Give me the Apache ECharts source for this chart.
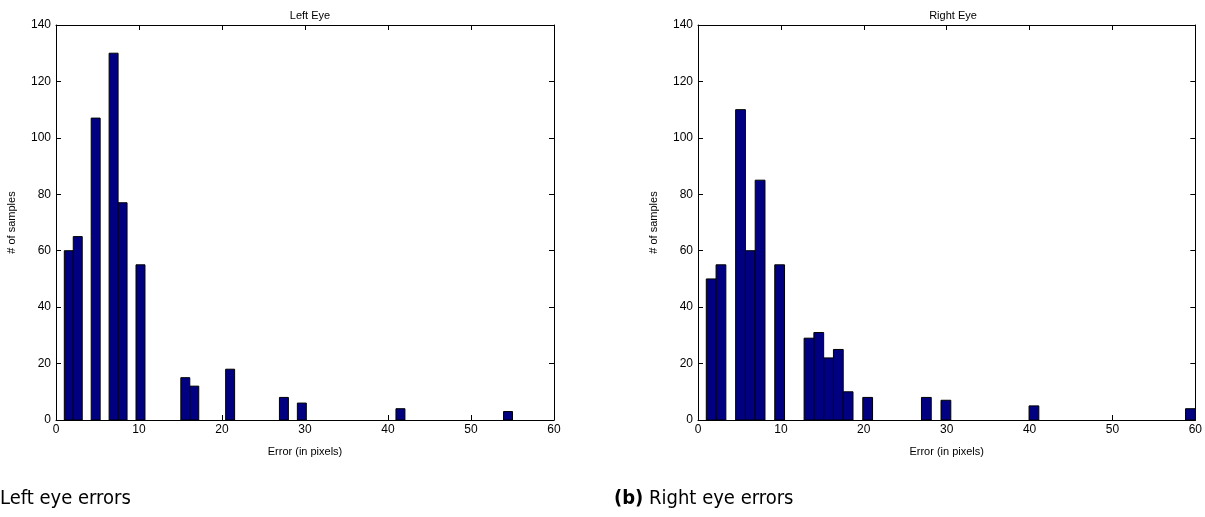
<!DOCTYPE html>
<html>
<head>
<meta charset="utf-8">
<script src="https://cdn.jsdelivr.net/npm/echarts@6/dist/echarts.min.js"></script>
<style>
  html, body { margin: 0; padding: 0; background: #fff; }
  #main { width: 1205px; height: 517px; }
</style>
</head>
<body>
<div id="main"></div>
<script>
// histogram bins (bin centre, count), 50 bins per eye
var leftBinWidth = 1.08
var leftCenters = [1.54, 2.62, 4.78, 6.94, 8.02, 10.18, 15.58, 16.66, 20.98, 27.46, 29.62, 41.50, 54.46]
var leftCounts  = [60, 65, 107, 130, 77, 55, 15, 12, 18, 8, 6, 4, 3]

var rightBinWidth = 1.18
var rightCenters = [1.59, 2.77, 5.13, 6.31, 7.49, 9.85, 13.39, 14.57, 15.75, 16.93, 18.11, 20.47, 27.55, 29.91, 40.53, 59.41]
var rightCounts  = [50, 55, 110, 60, 85, 55, 29, 31, 22, 25, 10, 8, 8, 7, 5, 4]

var titles = ['Left Eye', 'Right Eye']
var xName = 'Error (in pixels)'
var yName = '# of samples'

var font = 'Liberation Sans, Arial, sans-serif'
var capFont = '"DejaVu Sans Condensed", "Liberation Sans Narrow", sans-serif'

function pairs(xs, ys) {
  return xs.map(function (x, i) { return [x, ys[i]] })
}

function histItem(width) {
  return function (params, api) {
    var c = api.value(0)
    var n = api.value(1)
    var p0 = api.coord([c - width / 2, n])
    var p1 = api.coord([c + width / 2, 0])
    return {
      type: 'rect',
      shape: { x: p0[0], y: p0[1], width: p1[0] - p0[0], height: p1[1] - p0[1] },
      style: { fill: '#000080', stroke: '#000', lineWidth: 1 }
    }
  }
}

function xAxes(gi) {
  var base = {
    gridIndex: gi, type: 'value', min: 0, max: 60, interval: 10,
    axisLine: { show: true, onZero: false, lineStyle: { color: '#000', width: 1 } },
    splitLine: { show: false },
    axisTick: { show: true, inside: true, length: 5, lineStyle: { color: '#000' } }
  }
  return [
    Object.assign({}, base, {
      position: 'bottom',
      name: xName, nameLocation: 'middle', nameGap: 26,
      nameTextStyle: { color: '#000', fontSize: 11, fontFamily: font },
      axisLabel: { color: '#000', fontSize: 12, fontFamily: font, margin: 4 }
    }),
    Object.assign({}, base, { position: 'top', axisLabel: { show: false } })
  ]
}

function yAxes(gi) {
  var base = {
    gridIndex: gi, type: 'value', min: 0, max: 140, interval: 20,
    axisLine: { show: true, onZero: false, lineStyle: { color: '#000', width: 1 } },
    splitLine: { show: false },
    axisTick: { show: true, inside: true, length: 5, lineStyle: { color: '#000' } }
  }
  return [
    Object.assign({}, base, {
      position: 'left',
      name: yName, nameLocation: 'middle', nameGap: 39,
      nameTextStyle: { color: '#000', fontSize: 11, fontFamily: font },
      axisLabel: { color: '#000', fontSize: 12, fontFamily: font, margin: 5 }
    }),
    Object.assign({}, base, { position: 'right', axisLabel: { show: false } })
  ]
}

var chart = echarts.init(document.getElementById('main'), null, { renderer: 'canvas' })

chart.setOption({
  animation: false,
  backgroundColor: '#fff',
  title: [
    { text: titles[0], left: 305, top: 5, textAlign: 'center',
      textStyle: { fontSize: 11, fontWeight: 'normal', color: '#000', fontFamily: font } },
    { text: titles[1], left: 948, top: 5, textAlign: 'center',
      textStyle: { fontSize: 11, fontWeight: 'normal', color: '#000', fontFamily: font } }
  ],
  grid: [
    { left: 56, top: 25, width: 498, height: 395, show: false },
    { left: 698, top: 25, width: 500, height: 395, show: false }
  ],
  xAxis: xAxes(0).concat(xAxes(1)),
  yAxis: yAxes(0).concat(yAxes(1)),
  series: [
    { type: 'custom', xAxisIndex: 0, yAxisIndex: 0, renderItem: histItem(leftBinWidth),
      encode: { x: 0, y: 1 }, data: pairs(leftCenters, leftCounts) },
    { type: 'custom', xAxisIndex: 2, yAxisIndex: 2, renderItem: histItem(rightBinWidth),
      encode: { x: 0, y: 1 }, data: pairs(rightCenters, rightCounts) }
  ],
  graphic: [
    { type: 'text', left: 0, top: 489,
      style: { text: 'Left eye errors', font: '20px ' + capFont, fill: '#000' } },
    { type: 'text', left: 614, top: 489,
      style: {
        text: '{b|(b)} Right eye errors',
        font: '20px ' + capFont,
        fill: '#000',
        rich: { b: { fontWeight: 'bold', fontSize: 20, fontFamily: capFont } }
      } }
  ]
})
</script>
</body>
</html>
